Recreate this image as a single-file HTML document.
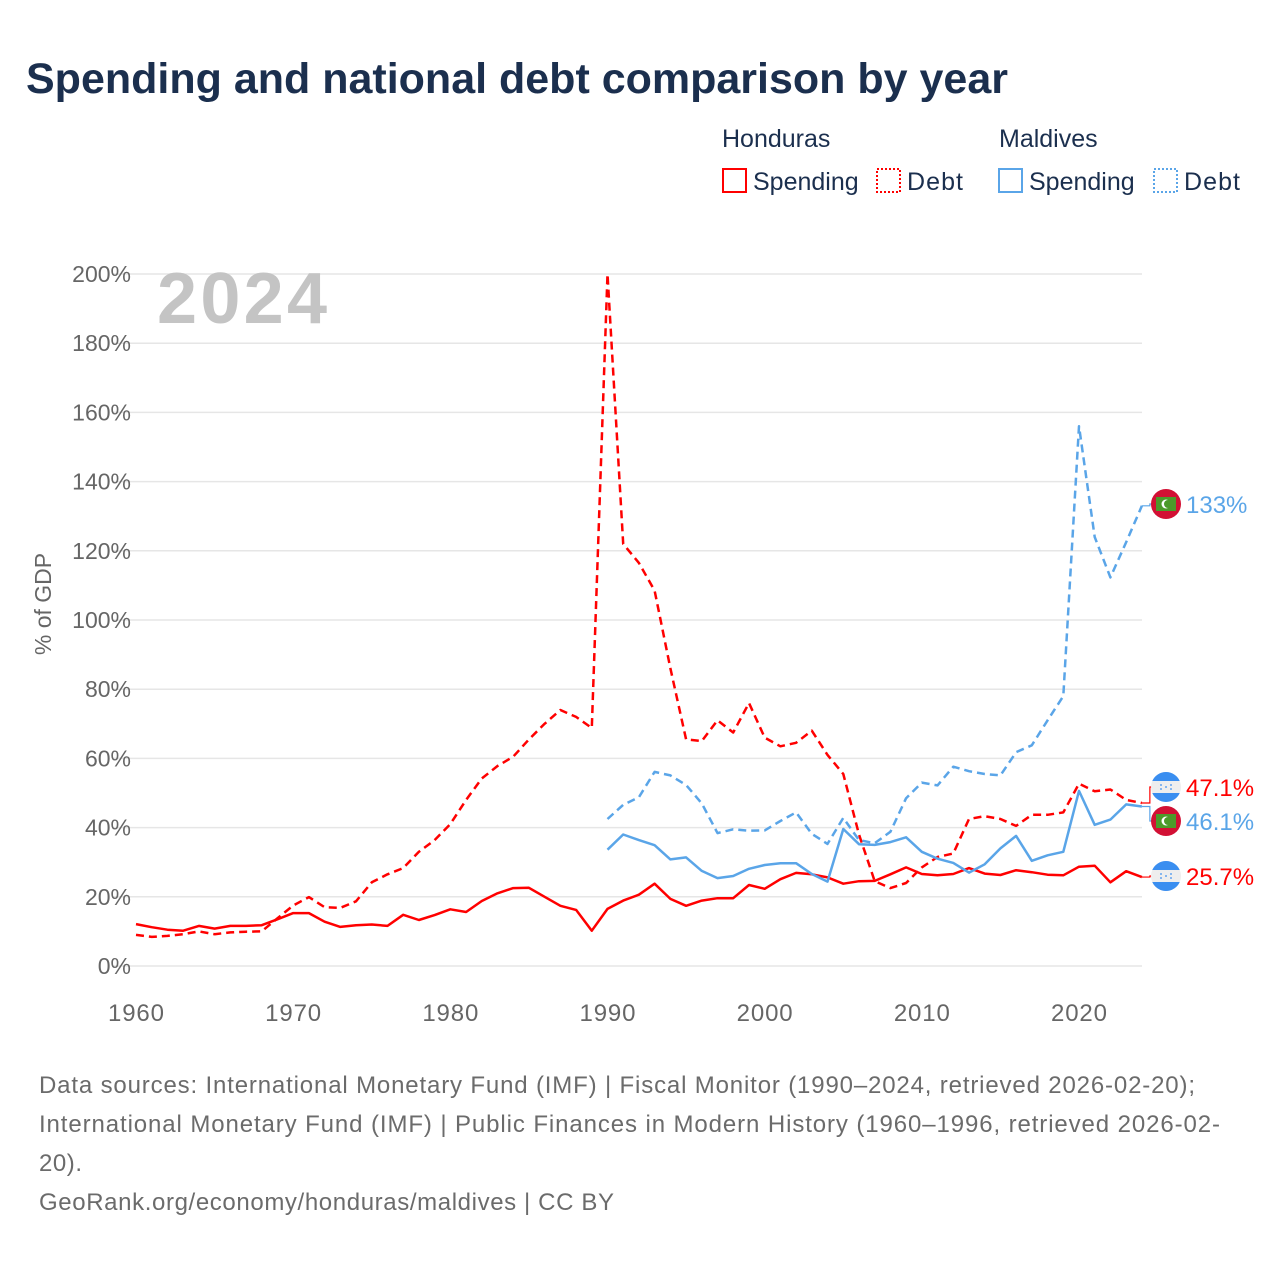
<!DOCTYPE html>
<html><head><meta charset="utf-8">
<style>
body{margin:0;background:#fff;font-family:"Liberation Sans",sans-serif;}
#wrap{position:relative;width:1280px;height:1280px;overflow:hidden;}
</style></head>
<body>
<div id="wrap">
<svg id="chart" width="1280" height="1280" xmlns="http://www.w3.org/2000/svg">
<text x="26" y="93" font-size="43" font-weight="bold" fill="#1b2f4e" font-family="Liberation Sans, sans-serif">Spending and national debt comparison by year</text>
<g font-size="25" fill="#1b2f4e">
<text x="722" y="147">Honduras</text>
<text x="999" y="147">Maldives</text>
<g><rect x="723" y="169" width="23" height="23" fill="none" stroke="#ff0000" stroke-width="2"/><text x="753" y="190">Spending</text></g>
<g><rect x="877" y="169" width="23" height="23" fill="none" stroke="#ff0000" stroke-width="2" stroke-dasharray="2,2"/><text x="907" y="190" textLength="56">Debt</text></g>
<g><rect x="999" y="169" width="23" height="23" fill="none" stroke="#5aa5e8" stroke-width="2"/><text x="1029" y="190">Spending</text></g>
<g><rect x="1154" y="169" width="23" height="23" fill="none" stroke="#5aa5e8" stroke-width="2" stroke-dasharray="2,2"/><text x="1184" y="190" textLength="56">Debt</text></g>
</g>
<g id="grid"></g>
<g id="yticks" font-size="23" fill="#666" text-anchor="end"></g>
<g id="xticks" font-size="24" fill="#666" text-anchor="middle"></g>
<text transform="translate(51,604) rotate(-90)" font-size="23" fill="#666" text-anchor="middle">% of GDP</text>
<text x="157" y="323" font-size="72" font-weight="bold" fill="#c4c4c4" textLength="170">2024</text>
<g id="series"></g>
<g id="labels"></g>
<g font-size="24" fill="#6b6b6b">
<text x="39" y="1093" textLength="1156">Data sources: International Monetary Fund (IMF) | Fiscal Monitor (1990–2024, retrieved 2026-02-20);</text>
<text x="39" y="1132" textLength="1181">International Monetary Fund (IMF) | Public Finances in Modern History (1960–1996, retrieved 2026-02-</text>
<text x="39" y="1171" textLength="43">20).</text>
<text x="39" y="1210" textLength="575">GeoRank.org/economy/honduras/maldives | CC BY</text>
</g>
</svg>
</div>
<script>
const yTicks=[0,20,40,60,80,100,120,140,160,180,200];
const xTicks=[1960,1970,1980,1990,2000,2010,2020];
const hnSpendStart=1960;
const hnSpending=[12.1,11.2,10.5,10.2,11.6,10.8,11.6,11.6,11.8,13.5,15.3,15.3,12.8,11.3,11.8,12.0,11.6,14.8,13.3,14.7,16.4,15.6,18.8,21,22.5,22.6,20,17.4,16.2,10.2,16.5,18.9,20.6,23.8,19.4,17.4,18.9,19.6,19.6,23.4,22.3,25.1,26.9,26.5,25.6,23.8,24.5,24.6,26.5,28.5,26.6,26.2,26.6,28.3,26.7,26.3,27.7,27.1,26.4,26.2,28.7,29,24.2,27.4,25.7];
const hnDebt=[9.0,8.4,8.7,9.2,10.0,9.2,9.7,9.9,10,13.8,17.5,19.9,17,16.8,18.7,24.2,26.5,28.3,33,36.4,41,48,54.2,57.8,60.5,65.5,70,74,72,68.8,200,122,116.5,108.5,86,65.5,65,71,67.5,76,66,63.5,64.5,68,61,55.5,38,24.5,22.5,24,28.5,31.5,32.5,42.5,43.3,42.5,40.5,43.7,43.7,44.4,52.7,50.5,51,48,47.1];
const mvStart=1990;
const mvSpending=[33.6,38,36.4,34.9,30.8,31.4,27.5,25.4,26,28.1,29.2,29.7,29.7,26.6,24.4,39.6,35.2,35,35.8,37.2,33,31,29.8,27,29.4,34,37.6,30.4,32,33,50.6,40.8,42.3,46.7,46.1];
const mvDebt=[42.5,46.6,48.8,56.1,55.1,52.3,47,38.4,39.5,39.1,39.2,41.9,44.4,38.2,35.3,42.8,36.4,35.5,38.8,48.5,53,52.2,57.6,56.3,55.5,55.1,61.8,63.8,71,78,156,124,112.3,122.5,133];

const NS='http://www.w3.org/2000/svg';
const X=y=>136+(y-1960)*(943/60);
const Y=v=>966-v*3.46;
function mk(tag,attrs,parent){const e=document.createElementNS(NS,tag);for(const k in attrs)e.setAttribute(k,attrs[k]);parent.appendChild(e);return e;}
const grid=document.getElementById('grid'),yt=document.getElementById('yticks'),xt=document.getElementById('xticks');
yTicks.forEach(v=>{
  const l=mk('line',{x1:113,x2:1142,y1:Y(v),y2:Y(v),stroke:'#e6e6e6','stroke-width':1.5},grid);
  
  
  const t=mk('text',{x:131,y:Y(v)+8},yt);t.textContent=v+'%';
  
  
});
xTicks.forEach(v=>{
  const t=mk('text',{x:X(v),y:1021,textLength:56},xt);t.textContent=v;
  
  
});
const ser=document.getElementById('series');
function line(vals,start,color,dash,name){
  const pts=vals.map((v,i)=>X(start+i).toFixed(1)+','+Y(v).toFixed(1)).join(' ');
  const p=mk('polyline',{points:pts,fill:'none',stroke:color,'stroke-width':2.5,'stroke-linejoin':'round'},ser);
  if(dash)p.setAttribute('stroke-dasharray',dash);
  
  
}
const RED='#ff0000',BLUE='#5aa5e8';
line(hnSpending,hnSpendStart,RED,null,'honduras-spending-line');
line(hnDebt,hnSpendStart,RED,'8,5','honduras-debt-line');
line(mvSpending,mvStart,BLUE,null,'maldives-spending-line');
line(mvDebt,mvStart,BLUE,'8,5','maldives-debt-line');

const lab=document.getElementById('labels');
function endLabel(val,ly,color,flag,name){
  const x0=X(2024),y0=Y(val);
  const c=mk('polyline',{points:`${x0},${y0} ${x0+8},${y0} ${x0+8},${ly} ${x0+12},${ly}`,fill:'none',stroke:color,'stroke-width':1.2},lab);
  
  
  const g=mk('g',{},lab);
  
  
  const cx=1166;
  if(flag==='mv'){
    mk('circle',{cx:cx,cy:ly,r:15,fill:'#d21034'},g);
    mk('rect',{x:cx-10,y:ly-7,width:20,height:14,fill:'#4c9a2a'},g);
    mk('circle',{cx:cx,cy:ly,r:4.5,fill:'#fff'},g);
    mk('circle',{cx:cx+2,cy:ly,r:4,fill:'#4c9a2a'},g);
  }else{
    const hw=Math.sqrt(225-36);
    mk('circle',{cx:cx,cy:ly,r:15,fill:'#eeeeee'},g);
    mk('path',{d:`M${cx-hw},${ly-6} A15,15 0 0 1 ${cx+hw},${ly-6} Z`,fill:'#3a8ef0'},g);
    mk('path',{d:`M${cx-hw},${ly+6} A15,15 0 0 0 ${cx+hw},${ly+6} Z`,fill:'#3a8ef0'},g);
    [[-5,-2],[5,-2],[0,0],[-5,2],[5,2]].forEach(d=>mk('circle',{cx:cx+d[0],cy:ly+d[1],r:0.9,fill:'#3a8ef0'},g));
  }
  const t=mk('text',{x:1186,y:ly+9,'font-size':24,fill:color},lab);
  t.textContent=(val>=100?Math.round(val):val.toFixed(1))+'%';
  
  
}
endLabel(mvDebt[mvDebt.length-1],504,BLUE,'mv','maldives-debt-label');
endLabel(hnDebt[hnDebt.length-1],787,RED,'hn','honduras-debt-label');
endLabel(mvSpending[mvSpending.length-1],821,BLUE,'mv','maldives-spending-label');
endLabel(hnSpending[hnSpending.length-1],876,RED,'hn','honduras-spending-label');
</script>
</body></html>
